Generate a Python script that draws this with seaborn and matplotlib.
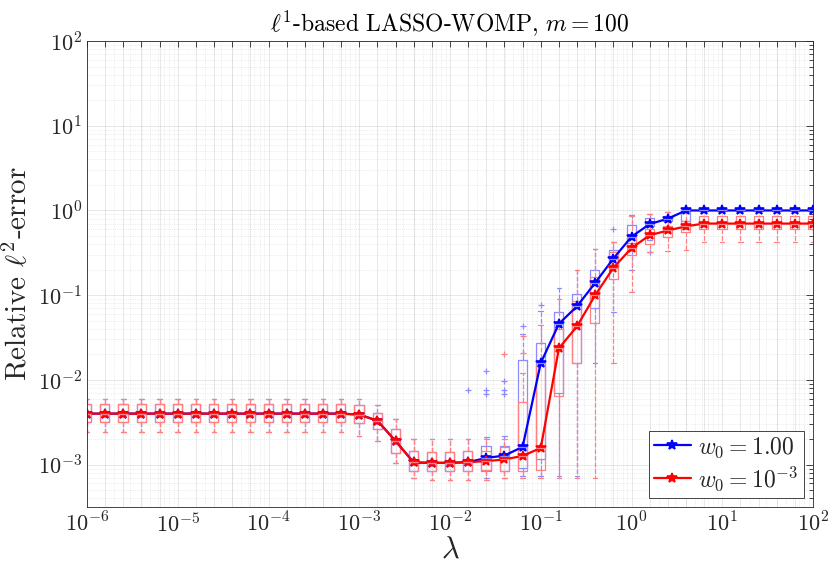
import numpy as np
import pandas as pd
import matplotlib
matplotlib.use('Agg')
import matplotlib.pyplot as plt
import seaborn as sns
from matplotlib.ticker import FuncFormatter, LogLocator, NullFormatter

# lambda grid, 5 points per decade
lam = np.logspace(-6, 2, 41)

# w0 = 1e-3 (red): median, quartiles, whisker ends
red_med = [4.0e-3] * 15 + [3.9e-3, 3.3e-3, 1.9e-3, 1.06e-3, 1.05e-3, 1.05e-3, 1.07e-3,
                           1.1e-3, 1.15e-3, 1.27e-3, 1.57e-3, 2.36e-2, 4.3e-2, 0.10,
                           0.21, 0.36, 0.51, 0.58, 0.65] + [0.70] * 7
red_q1 = [3.15e-3] * 15 + [3.1e-3, 2.6e-3, 1.37e-3, 8.3e-4, 8.5e-4, 8.5e-4, 8.3e-4,
                           8.7e-4, 8.3e-4, 8.3e-4, 8.7e-4, 6.5e-3, 1.6e-2, 4.7e-2,
                           0.155, 0.30, 0.40, 0.49, 0.55] + [0.60] * 7
red_q3 = [5.2e-3] * 15 + [5.1e-3, 4.1e-3, 2.6e-3, 1.43e-3, 1.4e-3, 1.4e-3, 1.43e-3,
                          1.45e-3, 1.6e-3, 5.5e-3, 1.5e-2, 4.0e-2, 8.5e-2, 0.165,
                          0.32, 0.48, 0.60, 0.66, 0.76] + [0.85] * 7
red_lo = [2.4e-3] * 15 + [2.2e-3, 1.9e-3, 1.05e-3, 7.0e-4, 6.5e-4, 6.5e-4, 6.6e-4,
                          6.5e-4, 6.9e-4, 7.0e-4, 7.0e-4, 7.0e-4, 7.0e-4, 7.0e-4,
                          1.6e-2, 0.11, 0.32, 0.33, 0.34] + [0.43] * 7
red_hi = [6.0e-3] * 15 + [6.0e-3, 5.1e-3, 3.45e-3, 2.0e-3, 2.0e-3, 2.0e-3, 2.0e-3,
                          2.0e-3, 2.0e-3, 1.2e-2, 4.5e-2, 9.0e-2, 0.20, 0.35,
                          0.42, 0.85, 0.92, 0.95, 0.95] + [0.87] * 7
red_fliers = {23: [2.0e-2], 24: [2.1e-2, 3.3e-2]}

# w0 = 1.00 (blue)
blue_med = red_med[:21] + [1.07e-3, 1.2e-3, 1.28e-3, 1.62e-3, 1.58e-2, 4.6e-2, 7.4e-2,
                           0.14, 0.27, 0.49, 0.69, 0.80] + [1.0] * 8
blue_q1 = red_q1[:21] + [8.3e-4, 8.5e-4, 8.3e-4, 9.1e-4, 1.15e-3, 7.0e-3, 1.6e-2,
                         7.1e-2, 0.22, 0.41, 0.65, 0.76, 0.76] + [0.99] * 7
blue_q3 = red_q3[:21] + [1.43e-3, 1.64e-3, 1.64e-3, 1.73e-2, 2.7e-2, 6.3e-2, 0.104,
                         0.20, 0.34, 0.67, 0.81, 0.87, 1.0] + [1.0] * 7
blue_lo = red_lo[:21] + [6.6e-4, 6.9e-4, 6.9e-4, 7.3e-4, 7.3e-4, 7.3e-4, 7.3e-4,
                         1.6e-2, 6.4e-2, 0.20, 0.45, 0.55, 0.60] + [0.98] * 7
blue_hi = red_hi[:21] + [2.0e-3, 2.1e-3, 2.2e-3, 3.5e-2, 6.5e-2, 0.12, 0.20,
                         0.35, 0.43, 0.89, 0.92, 0.95, 1.0] + [1.0] * 7
blue_fliers = {21: [7.6e-3], 22: [1.26e-2, 7.6e-3, 6.8e-3], 23: [9.6e-3, 7.6e-3, 6.8e-3],
               24: [4.3e-2], 25: [7.7e-2], 29: [0.6], 31: [0.32]}

labels = [r'$w_0 = 1.00$', r'$w_0 = 10^{-3}$']


def box_stats(med, q1, q3, lo, hi, fliers):
    out = []
    for i in range(len(med)):
        out.append(dict(med=med[i], q1=q1[i], q3=q3[i], whislo=lo[i], whishi=hi[i],
                        fliers=fliers.get(i, [])))
    return out


sns.set_theme(style='white')
plt.rcParams['font.family'] = ['serif']
plt.rcParams['font.serif'] = ['cmr10', 'DejaVu Serif']
plt.rcParams['mathtext.fontset'] = 'cm'
plt.rcParams['axes.formatter.use_mathtext'] = True
plt.rcParams['axes.unicode_minus'] = False

fig = plt.figure(figsize=(8.3, 5.76), dpi=100)
ax = fig.add_axes([87 / 830, 1 - 507 / 576, (813 - 87) / 830, (507 - 41) / 576])
ax.set_xscale('log')
ax.set_yscale('log')

for st, col in [(box_stats(blue_med, blue_q1, blue_q3, blue_lo, blue_hi, blue_fliers), (0.55, 0.55, 1.0)),
                (box_stats(red_med, red_q1, red_q3, red_lo, red_hi, red_fliers), (1.0, 0.5, 0.5))]:
    ax.bxp(st, positions=lam, widths=lam * 0.23, manage_ticks=False,
           boxprops=dict(color=col, lw=0.9),
           whiskerprops=dict(color=col, ls='--', lw=0.9),
           capprops=dict(color=col, lw=0.9),
           medianprops=dict(color=col, lw=0.9),
           flierprops=dict(marker='+', markeredgecolor=col, markersize=5, markeredgewidth=0.9))

sns.lineplot(x=lam, y=blue_med, ax=ax, color='blue', lw=1.6, marker='*', markersize=7.5,
             markeredgewidth=1.2, markeredgecolor='blue', label=labels[0])
sns.lineplot(x=lam, y=red_med, ax=ax, color='red', lw=1.6, marker='*', markersize=7.5,
             markeredgewidth=1.2, markeredgecolor='red', label=labels[1])

ax.set_xlim(1e-6, 1e2)
ax.set_ylim(10 ** -3.5, 1e2)

ax.set_xticks(lam)
ax.xaxis.set_major_formatter(FuncFormatter(
    lambda v, p: r'$10^{%d}$' % round(np.log10(v)) if abs(np.log10(v) - round(np.log10(v))) < 1e-6 else ''))
ax.xaxis.set_minor_locator(LogLocator(base=10, subs=np.arange(2, 10), numticks=100))
ax.xaxis.set_minor_formatter(NullFormatter())
ax.yaxis.set_major_locator(LogLocator(base=10, numticks=20))
ax.yaxis.set_minor_locator(LogLocator(base=10, subs=np.arange(2, 10), numticks=100))
ax.yaxis.set_minor_formatter(NullFormatter())

dark = (0.15, 0.15, 0.15)
ax.tick_params(which='both', direction='in', top=True, right=True, color=dark,
               labelcolor=dark, labelsize=16, width=0.6)
ax.tick_params(axis='x', which='major', length=4)
ax.tick_params(axis='x', which='minor', length=0)
ax.tick_params(axis='y', which='major', length=5)
ax.tick_params(axis='y', which='minor', length=3)
ax.grid(which='major', color=dark, alpha=0.12, lw=0.6)
ax.grid(which='minor', color=dark, alpha=0.15, lw=0.5, ls=':')
for s in ax.spines.values():
    s.set_color(dark)
    s.set_linewidth(0.6)

ax.set_title(r'$\ell^1$-based LASSO-WOMP, $m=100$', fontsize=17, color='black', pad=7)
ax.set_xlabel(r'$\lambda$', fontsize=22, labelpad=0)
ax.set_ylabel(r'Relative $\ell^2$-error', fontsize=21, labelpad=4)

leg = ax.legend(loc='lower right', fontsize=17, frameon=True, fancybox=False,
                borderaxespad=0.4, handlelength=1.6, handletextpad=0.3, borderpad=0.2,
                labelspacing=0.2)
leg.get_frame().set_edgecolor(dark)
leg.get_frame().set_linewidth(0.6)
leg.get_frame().set_alpha(1)

fig.savefig('out.png', dpi=100)
